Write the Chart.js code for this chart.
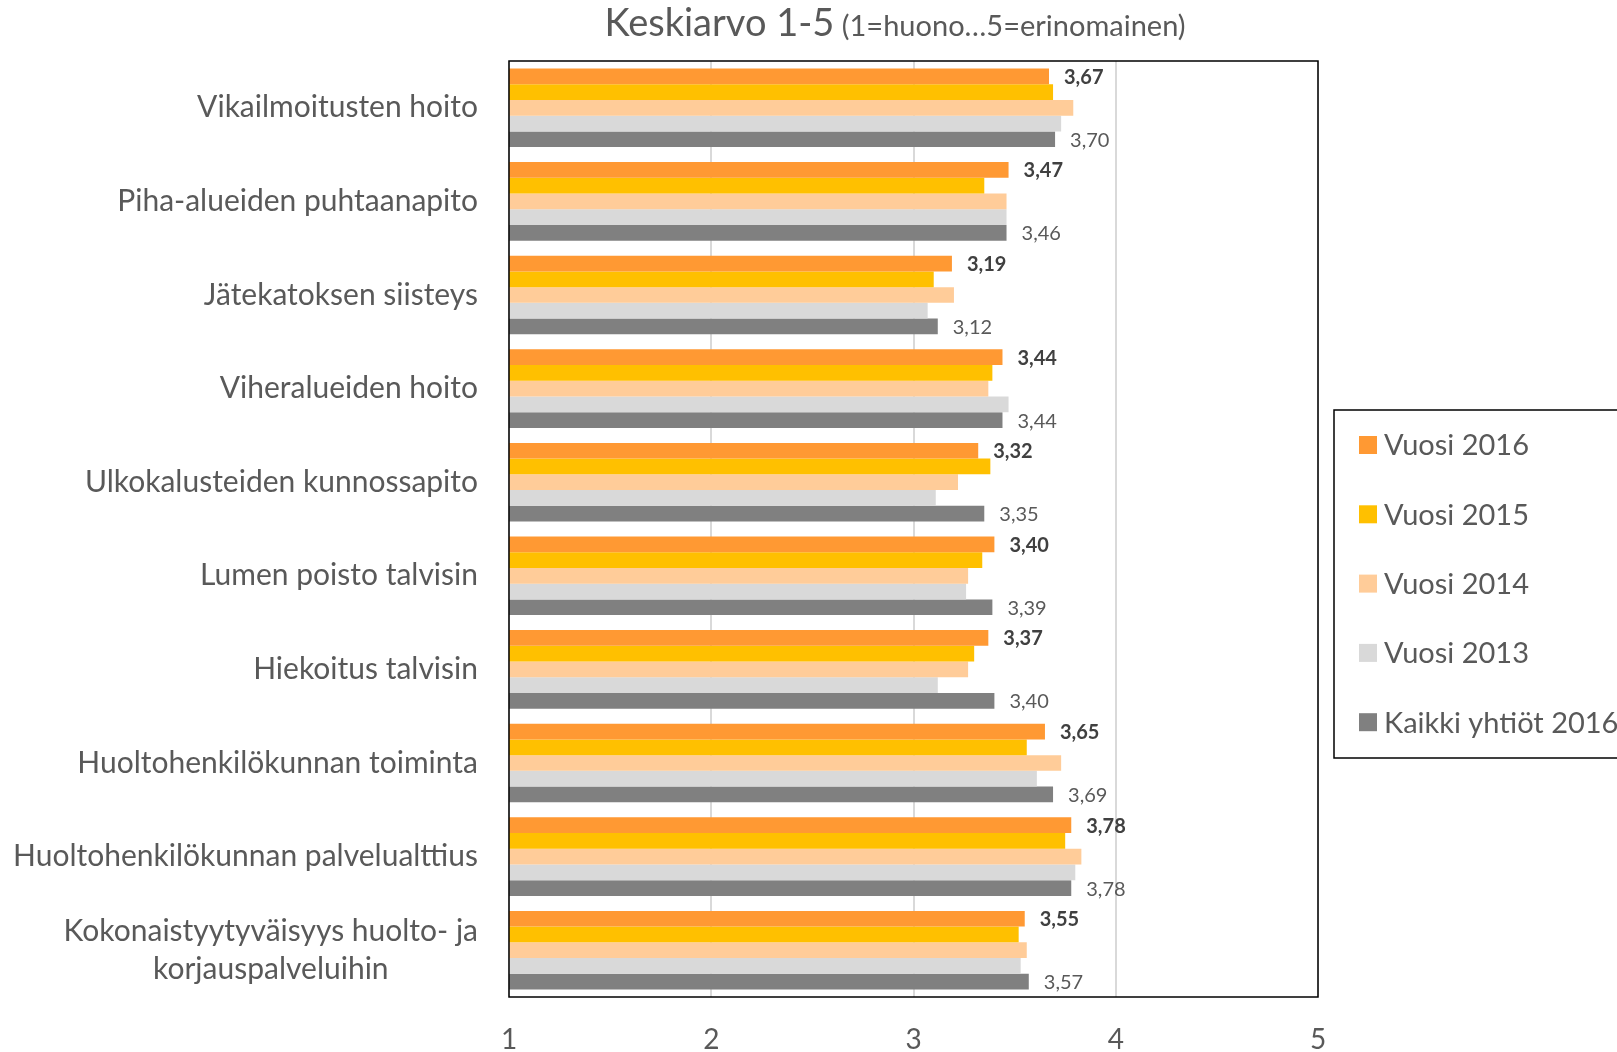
<!DOCTYPE html>
<html>
<head>
<meta charset="utf-8">
<script src="https://cdn.jsdelivr.net/npm/chart.js@4"></script>
<style>
  html, body { margin: 0; padding: 0; background: #fff; }
  canvas { display: block; }
</style>
</head>
<body>
<canvas id="chart" width="1617" height="1052"></canvas>
<script>
// categories (array = multi-line label)
const categories = [
  "Vikailmoitusten hoito",
  "Piha-alueiden puhtaanapito",
  "Jätekatoksen siisteys",
  "Viheralueiden hoito",
  "Ulkokalusteiden kunnossapito",
  "Lumen poisto talvisin",
  "Hiekoitus talvisin",
  "Huoltohenkilökunnan toiminta",
  "Huoltohenkilökunnan palvelualttius",
  ["Kokonaistyytyväisyys huolto- ja", "korjauspalveluihin"]
];

const vuosi2016 = [3.67, 3.47, 3.19, 3.44, 3.32, 3.40, 3.37, 3.65, 3.78, 3.55];
const vuosi2015 = [3.69, 3.35, 3.10, 3.39, 3.38, 3.34, 3.30, 3.56, 3.75, 3.52];
const vuosi2014 = [3.79, 3.46, 3.20, 3.37, 3.22, 3.27, 3.27, 3.73, 3.83, 3.56];
const vuosi2013 = [3.73, 3.46, 3.07, 3.47, 3.11, 3.26, 3.12, 3.61, 3.80, 3.53];
const kaikki2016 = [3.70, 3.46, 3.12, 3.44, 3.35, 3.39, 3.40, 3.69, 3.78, 3.57];

const xTicks = [1, 2, 3, 4, 5];
const FONT = "Lato, 'Open Sans', sans-serif";
const TEXT = "#595959";

function fmt(v) {
  return v.toFixed(2).replace(".", ",");
}

// title, frame, value labels, category labels, legend
const extras = {
  id: "extras",
  afterDatasetsDraw(chart) {
    const ctx = chart.ctx;
    const area = chart.chartArea;
    const yScale = chart.scales.y;

    // plot frame
    ctx.save();
    ctx.strokeStyle = "#000";
    ctx.lineWidth = 1.5;
    ctx.strokeRect(area.left, area.top, area.right - area.left, area.bottom - area.top);
    ctx.restore();

    // value labels for 2016 (bold) and Kaikki yhtiöt (normal)
    ctx.save();
    ctx.textBaseline = "middle";
    ctx.textAlign = "left";
    [[0, "bold", "#404040"], [4, "normal", TEXT]].forEach(([di, weight, color]) => {
      const meta = chart.getDatasetMeta(di);
      const values = chart.data.datasets[di].data;
      ctx.font = weight + " 20px " + FONT;
      ctx.fillStyle = color;
      meta.data.forEach((bar, i) => {
        ctx.fillText(fmt(values[i]), bar.x + 15, bar.y + 1);
      });
    });
    ctx.restore();

    // category labels (block right aligned, lines centred on each other)
    ctx.save();
    ctx.font = "30px " + FONT;
    ctx.fillStyle = TEXT;
    ctx.textBaseline = "middle";
    ctx.textAlign = "center";
    const rightEdge = area.left - 31;
    categories.forEach((lab, i) => {
      const y = yScale.getPixelForValue(i);
      const lines = Array.isArray(lab) ? lab : [lab];
      const widest = Math.max(...lines.map(l => ctx.measureText(l).width));
      const cx = rightEdge - widest / 2;
      lines.forEach((l, k) => {
        ctx.fillText(l, cx, y + (k - (lines.length - 1) / 2) * 38);
      });
    });
    ctx.restore();

    // title
    ctx.save();
    ctx.textBaseline = "alphabetic";
    ctx.textAlign = "left";
    const big = "Keskiarvo 1-5";
    const small = " (1=huono…5=erinomainen)";
    ctx.font = "38px " + FONT;
    const wBig = ctx.measureText(big).width;
    ctx.font = "29px " + FONT;
    const wSmall = ctx.measureText(small).width;
    const tx = 895 - (wBig + wSmall) / 2;
    ctx.fillStyle = TEXT;
    ctx.font = "38px " + FONT;
    ctx.fillText(big, tx, 36);
    ctx.font = "29px " + FONT;
    ctx.fillText(small, tx + wBig, 36);
    ctx.restore();

    // legend
    ctx.save();
    const lx = area.right + 16;
    const ly = 410;
    ctx.strokeStyle = "#000";
    ctx.lineWidth = 1.5;
    ctx.strokeRect(lx, ly, 320, 348);
    ctx.font = "29px " + FONT;
    ctx.textBaseline = "middle";
    ctx.textAlign = "left";
    chart.data.datasets.forEach((ds, i) => {
      const y = 445 + i * 69.3;
      ctx.fillStyle = ds.backgroundColor;
      ctx.fillRect(lx + 25, y - 9, 18, 18);
      ctx.fillStyle = TEXT;
      ctx.fillText(ds.label, lx + 50, y + 1);
    });
    ctx.restore();
  }
};

new Chart(document.getElementById("chart"), {
  type: "bar",
  data: {
    labels: categories,
    datasets: [
      { label: "Vuosi 2016", data: vuosi2016, backgroundColor: "#FF9933" },
      { label: "Vuosi 2015", data: vuosi2015, backgroundColor: "#FFC000" },
      { label: "Vuosi 2014", data: vuosi2014, backgroundColor: "#FFCC99" },
      { label: "Vuosi 2013", data: vuosi2013, backgroundColor: "#D9D9D9" },
      { label: "Kaikki yhtiöt 2016", data: kaikki2016, backgroundColor: "#808080" }
    ]
  },
  options: {
    indexAxis: "y",
    responsive: false,
    animation: false,
    categoryPercentage: 0.84,
    barPercentage: 1.0,
    layout: { padding: { left: 509, right: 299, top: 61, bottom: 0 } },
    plugins: {
      legend: { display: false },
      tooltip: { enabled: false }
    },
    scales: {
      x: {
        min: 1,
        max: 5,
        afterBuildTicks: (scale) => { scale.ticks = xTicks.map(v => ({ value: v })); },
        afterFit: (scale) => { scale.height = 55; },
        grid: { color: "#D9D9D9", lineWidth: 2, drawTicks: false },
        border: { display: false },
        ticks: {
          padding: 26,
          color: TEXT,
          font: { family: FONT, size: 28 },
          callback: (v) => String(v)
        }
      },
      y: {
        afterFit: (scale) => { scale.width = 0; },
        grid: { display: false },
        border: { display: false },
        ticks: { display: false }
      }
    }
  },
  plugins: [extras]
});
</script>
</body>
</html>
